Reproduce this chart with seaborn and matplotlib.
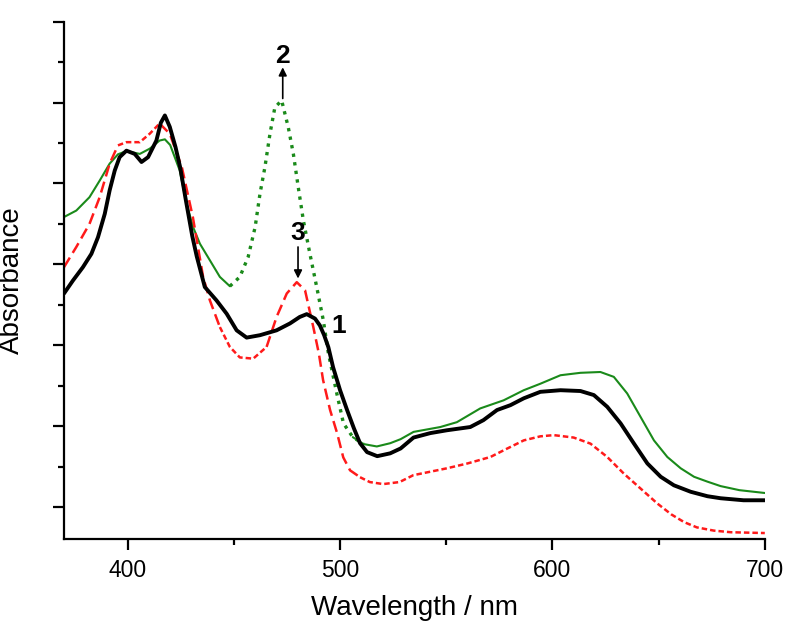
import numpy as np
import pandas as pd
import seaborn as sns
import matplotlib.pyplot as plt
from matplotlib.ticker import MultipleLocator, NullFormatter

# spectrum 1 (black)
wl_1 = [370, 374.2, 378.9, 382.9, 386, 389.2, 391.5, 393.9, 396.2, 399.4, 403.3, 406.5, 409.6,
        413.5, 415.6, 417.5, 419.8, 422.5, 424.7, 427.4, 430.4, 432.5, 436.3, 441.8, 446.6,
        451.3, 456, 462.3, 470.1, 476.4, 481, 484.3, 488.2, 490.5, 492.5, 494.5, 496.7, 500,
        503.3, 506.5, 509.4, 512.7, 517.5, 523.6, 528.5, 534.6, 542.5, 550.3, 561.3, 567.5,
        573.9, 580.2, 586.5, 594.3, 603.8, 613.2, 619.5, 625.8, 632.1, 638.4, 644.7, 651,
        657.2, 665.1, 673, 679.2, 690, 700]
abs_1 = [0.728, 0.76, 0.793, 0.826, 0.867, 0.925, 0.983, 1.032, 1.065, 1.081, 1.073, 1.053, 1.065,
         1.106, 1.15, 1.168, 1.14, 1.09, 1.04, 0.958, 0.87, 0.82, 0.744, 0.711, 0.678, 0.637,
         0.619, 0.625, 0.637, 0.654, 0.67, 0.677, 0.666, 0.649, 0.625, 0.595, 0.546, 0.489,
         0.44, 0.395, 0.358, 0.336, 0.326, 0.333, 0.345, 0.372, 0.383, 0.39, 0.398, 0.415,
         0.44, 0.452, 0.469, 0.485, 0.489, 0.487, 0.477, 0.448, 0.407, 0.357, 0.308, 0.275,
         0.254, 0.238, 0.227, 0.222, 0.217, 0.217]

# spectrum 2 (green)
wl_2 = [370, 375.8, 382, 386.8, 391.5, 395.4, 399.4, 405.7, 410.4, 415, 417.5, 420, 424.5,
        427.7, 430.8, 434, 438.7, 443.4, 448.1, 452.8, 456.7, 460, 462.3, 464.6, 467, 469.3,
        472.5, 475.6, 478, 480.3, 482.7, 485.8, 489, 492.1, 494.5, 498.5, 501.6, 506, 511,
        517.3, 523.6, 528.5, 534.6, 547.2, 555, 566, 577, 586.5, 594.3, 603.8, 613.2, 622.6,
        628.9, 635.2, 641.5, 647.8, 654.1, 660.4, 666.7, 673, 679.2, 688, 700]
abs_2 = [0.917, 0.933, 0.966, 1.007, 1.049, 1.072, 1.08, 1.073, 1.086, 1.106, 1.109, 1.095, 1.032,
         0.95, 0.892, 0.851, 0.81, 0.769, 0.746, 0.769, 0.818, 0.892, 0.975, 1.04, 1.123,
         1.188, 1.205, 1.139, 1.073, 0.991, 0.909, 0.826, 0.744, 0.662, 0.58, 0.48, 0.407,
         0.373, 0.356, 0.35, 0.358, 0.368, 0.386, 0.398, 0.41, 0.444, 0.464, 0.489, 0.505,
         0.526, 0.532, 0.534, 0.522, 0.481, 0.423, 0.365, 0.324, 0.296, 0.275, 0.263, 0.252,
         0.242, 0.235]

# spectrum 3 (red)
wl_3 = [370, 375.8, 382, 386.8, 391.5, 395.4, 399.4, 405.7, 410.4, 415, 419.8, 425.5, 430.7,
        435.5, 438.7, 443.4, 448.1, 452.8, 459.1, 465.4, 470.1, 474.9, 479.6, 483.5, 487.4,
        490, 492, 495.3, 498.6, 501.5, 504.7, 509.4, 514, 520.3, 528, 534.5, 550.3, 560,
        570.8, 578, 586.5, 594.3, 600.6, 610, 617.9, 625.8, 633.6, 641.5, 649.4, 656, 662,
        668, 676, 684, 692, 700]
abs_3 = [0.793, 0.843, 0.9, 0.966, 1.049, 1.094, 1.102, 1.102, 1.123, 1.148, 1.123, 1.04, 0.916,
         0.769, 0.711, 0.645, 0.596, 0.57, 0.567, 0.596, 0.67, 0.728, 0.756, 0.736, 0.645,
         0.58, 0.514, 0.44, 0.383, 0.323, 0.291, 0.274, 0.262, 0.257, 0.262, 0.279, 0.296,
         0.308, 0.324, 0.343, 0.365, 0.375, 0.378, 0.372, 0.357, 0.324, 0.283, 0.246, 0.209,
         0.182, 0.163, 0.15, 0.142, 0.138, 0.137, 0.136]

x_ticks = [400, 500, 600, 700]

sns.set_style("ticks")
plt.rcParams['font.family'] = ['Liberation Sans', 'DejaVu Sans']
plt.rcParams['text.color'] = 'black'
plt.rcParams['axes.labelcolor'] = 'black'
plt.rcParams['xtick.color'] = 'black'
plt.rcParams['ytick.color'] = 'black'

fig = plt.figure(figsize=(8, 6.35), dpi=100)
ax = fig.add_axes([0.08, 0.151, 0.876, 0.815])

df1 = pd.DataFrame({'wl': wl_1, 'A': abs_1})
df2 = pd.DataFrame({'wl': wl_2, 'A': abs_2})
df3 = pd.DataFrame({'wl': wl_3, 'A': abs_3})


def seg(df, lo, hi):
    return df[(df.wl >= lo) & (df.wl <= hi)]


green = '#1a8a1a'
red = '#ff1a1a'

# green: solid, dotted around the 472 nm band
sns.lineplot(data=seg(df2, 0, 448.1), x='wl', y='A', ax=ax, color=green, lw=1.5)
sns.lineplot(data=seg(df2, 448.1, 511), x='wl', y='A', ax=ax, color=green, lw=2.4,
             linestyle=(0, (1, 1.6)))
sns.lineplot(data=seg(df2, 506, 800), x='wl', y='A', ax=ax, color=green, lw=1.5)

# red: long and short dashes
long_d = (0, (4.5, 2.2))
short_d = (0, (2.2, 1.2))
for lo, hi, ls in [(0, 395.4, long_d), (395.4, 415, short_d), (415, 443.4, long_d),
                   (443.4, 465.4, short_d), (465.4, 509.4, long_d), (509.4, 800, short_d)]:
    sns.lineplot(data=seg(df3, lo, hi), x='wl', y='A', ax=ax, color=red, lw=1.8, linestyle=ls)

# black
sns.lineplot(data=df1, x='wl', y='A', ax=ax, color='black', lw=2.8)

ax.set_xlim(370, 700)
ax.set_ylim(0.121, 1.4)
ax.set_xticks(x_ticks)
ax.xaxis.set_minor_locator(MultipleLocator(50))
ax.yaxis.set_major_locator(MultipleLocator(0.2))
ax.yaxis.set_minor_locator(MultipleLocator(0.1))
ax.yaxis.set_major_formatter(NullFormatter())
ax.tick_params(which='major', length=8, width=1.6, labelsize=16.5, pad=6)
ax.tick_params(which='minor', length=4.5, width=1.6)
for s in ['left', 'bottom']:
    ax.spines[s].set_linewidth(1.6)
    ax.spines[s].set_color('black')
sns.despine(ax=ax)

ax.set_xlabel('Wavelength / nm', fontsize=20, labelpad=10)
ax.set_ylabel('Absorbance', fontsize=20, labelpad=14)

arrow = dict(arrowstyle='-|>', color='black', lw=1.2, mutation_scale=12,
             shrinkA=0, shrinkB=0)
ax.annotate('', xy=(473, 1.287), xytext=(473, 1.21), arrowprops=arrow)
ax.text(473, 1.316, '2', ha='center', va='center', fontsize=19, fontweight='bold')
ax.annotate('', xy=(480.2, 0.765), xytext=(480.2, 0.843), arrowprops=arrow)
ax.text(480.2, 0.878, '3', ha='center', va='center', fontsize=19, fontweight='bold')
ax.text(499.5, 0.648, '1', ha='center', va='center', fontsize=19, fontweight='bold')

fig.savefig('out.png', dpi=100)
